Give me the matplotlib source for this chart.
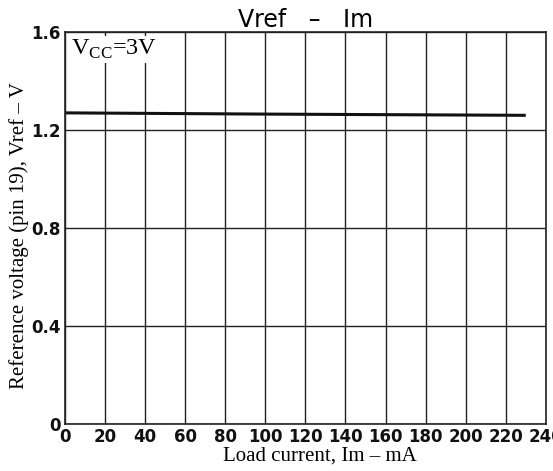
import matplotlib
matplotlib.use('Agg')
import matplotlib.pyplot as plt

matplotlib.rcParams['font.family'] = 'DejaVu Sans'

# load current (mA) and reference voltage (V)
load_current = [0, 100, 230]
vref = [1.27, 1.265, 1.26]

x_ticks = [0, 20, 40, 60, 80, 100, 120, 140, 160, 180, 200, 220, 240]
y_ticks = [0, 0.4, 0.8, 1.2, 1.6]
y_labels = ['0', '0.4', '0.8', '1.2', '1.6']

fig = plt.figure(figsize=(5.53, 4.71), dpi=100)
ax = fig.add_axes([0.1175, 0.0998, 0.8695, 0.8322])

ax.plot(load_current, vref, color='#111111', linewidth=2.2, solid_capstyle='butt')

ax.set_xlim(0, 240)
ax.set_ylim(0, 1.6)
ax.set_xticks(x_ticks)
ax.set_yticks(y_ticks)
ax.set_yticklabels(y_labels)
ax.tick_params(length=0, labelsize=12, pad=3)
for lab in ax.get_xticklabels() + ax.get_yticklabels():
    lab.set_fontweight('semibold')
    lab.set_color('#111111')
ax.grid(True, color='#222222', linewidth=1.0)
for s in ax.spines.values():
    s.set_linewidth(1.2)
    s.set_color('#222222')

ax.set_title('Vref   –   Im', fontsize=17, pad=1, x=0.5)
ax.set_xlabel('Load current, Im – mA', fontfamily='Liberation Serif', fontsize=15, labelpad=0, x=0.53)
ax.set_ylabel('Reference voltage (pin 19), Vref – V', fontfamily='Liberation Serif', fontsize=15, labelpad=2,
              y=0.48)

ax.text(0.012, 0.985, r'V$_{\mathregular{CC}}$=3V', transform=ax.transAxes, ha='left', va='top',
        fontfamily='Liberation Serif', fontsize=17.5,
        bbox=dict(facecolor='white', edgecolor='none', pad=1))

fig.savefig('out.png', dpi=100)
